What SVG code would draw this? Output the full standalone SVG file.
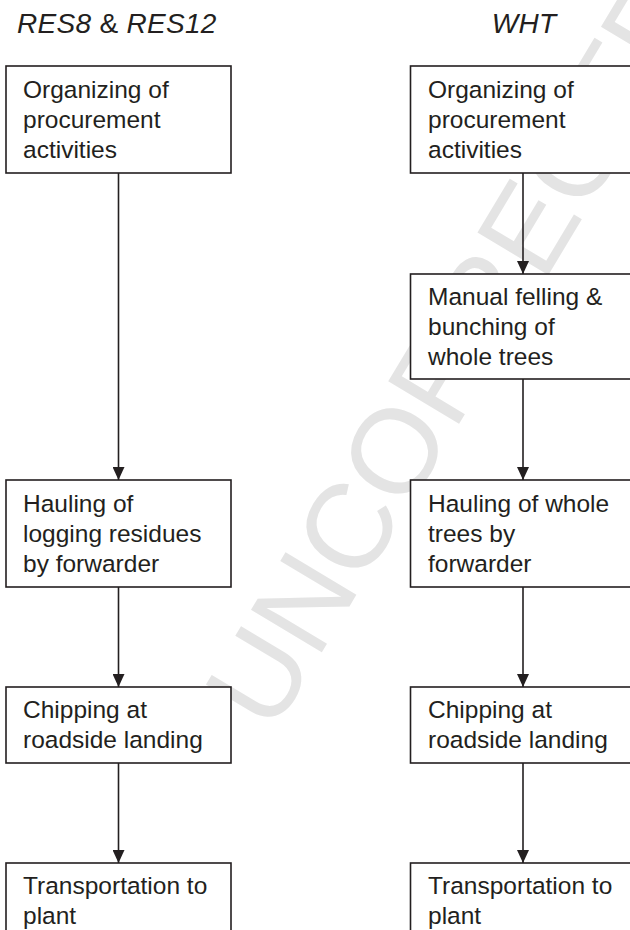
<svg xmlns="http://www.w3.org/2000/svg" width="630" height="930" viewBox="0 0 630 930">
  <style>
    .box { fill: #ffffff; stroke: #231f20; stroke-width: 1.6; }
    .lbl { font-family: "Liberation Sans", Arial, sans-serif; font-size: 24.5px; fill: #231f20; }
    .hdr { font-family: "Liberation Sans", Arial, sans-serif; font-size: 28px; letter-spacing: 0.3px; fill: #231f20; }
    .it { font-style: italic; }
    .conn { stroke: #231f20; stroke-width: 1.6; fill: none; marker-end: url(#ah); }
    .wm { font-family: "Liberation Sans", Arial, sans-serif; font-size: 120px; fill: #e4e4e4; }
  </style>
  <defs>
    <marker id="ah" viewBox="0 0 13 12" refX="13" refY="6" markerWidth="13" markerHeight="12" markerUnits="userSpaceOnUse" orient="auto">
      <path d="M0,0 L13,6 L0,12 Z" fill="#231f20"/>
    </marker>
  </defs>
  <rect width="630" height="930" fill="#ffffff"/>

  <g id="watermark">
    <text class="wm" transform="translate(272,735) rotate(-59)">UNCORRECTED</text>
  </g>

  <g id="headers">
    <text class="hdr" x="17" y="33"><tspan class="it">RES8</tspan> &amp; <tspan class="it">RES12</tspan></text>
    <text class="hdr it" x="524" y="33" text-anchor="middle">WHT</text>
  </g>

  <g id="connectors">
    <line class="conn" x1="118.5" y1="173" x2="118.5" y2="480"/>
    <line class="conn" x1="118.5" y1="587" x2="118.5" y2="687"/>
    <line class="conn" x1="118.5" y1="763" x2="118.5" y2="863"/>
    <line class="conn" x1="523" y1="173" x2="523" y2="274"/>
    <line class="conn" x1="523" y1="379" x2="523" y2="480"/>
    <line class="conn" x1="523" y1="587" x2="523" y2="687"/>
    <line class="conn" x1="523" y1="763" x2="523" y2="863"/>
  </g>

  <g id="L1">
    <rect class="box" x="6" y="66" width="225" height="107"/>
    <text class="lbl" x="23" y="98">Organizing of</text>
    <text class="lbl" x="23" y="128">procurement</text>
    <text class="lbl" x="23" y="158">activities</text>
  </g>
  <g id="L2">
    <rect class="box" x="6" y="480" width="225" height="107"/>
    <text class="lbl" x="23" y="512">Hauling of</text>
    <text class="lbl" x="23" y="542">logging residues</text>
    <text class="lbl" x="23" y="572">by forwarder</text>
  </g>
  <g id="L3">
    <rect class="box" x="6" y="687" width="225" height="76"/>
    <text class="lbl" x="23" y="718">Chipping at</text>
    <text class="lbl" x="23" y="748">roadside landing</text>
  </g>
  <g id="L4">
    <rect class="box" x="6" y="863" width="225" height="90"/>
    <text class="lbl" x="23" y="894">Transportation to</text>
    <text class="lbl" x="23" y="924">plant</text>
  </g>

  <g id="R1">
    <rect class="box" x="410.5" y="66" width="225" height="107"/>
    <text class="lbl" x="428" y="98">Organizing of</text>
    <text class="lbl" x="428" y="128">procurement</text>
    <text class="lbl" x="428" y="158">activities</text>
  </g>
  <g id="R2">
    <rect class="box" x="410.5" y="274" width="225" height="105"/>
    <text class="lbl" x="428" y="305">Manual felling &amp;</text>
    <text class="lbl" x="428" y="335">bunching of</text>
    <text class="lbl" x="428" y="365">whole trees</text>
  </g>
  <g id="R3">
    <rect class="box" x="410.5" y="480" width="225" height="107"/>
    <text class="lbl" x="428" y="512">Hauling of whole</text>
    <text class="lbl" x="428" y="542">trees by</text>
    <text class="lbl" x="428" y="572">forwarder</text>
  </g>
  <g id="R4">
    <rect class="box" x="410.5" y="687" width="225" height="76"/>
    <text class="lbl" x="428" y="718">Chipping at</text>
    <text class="lbl" x="428" y="748">roadside landing</text>
  </g>
  <g id="R5">
    <rect class="box" x="410.5" y="863" width="225" height="90"/>
    <text class="lbl" x="428" y="894">Transportation to</text>
    <text class="lbl" x="428" y="924">plant</text>
  </g>
</svg>
